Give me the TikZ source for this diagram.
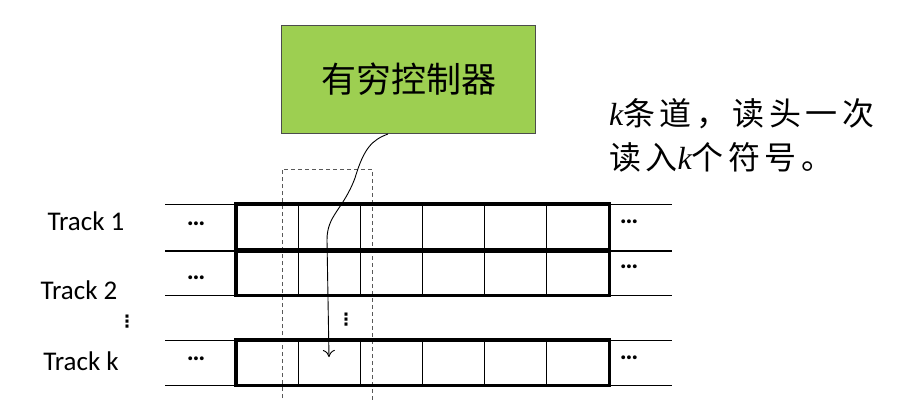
\documentclass[tikz,border=0pt]{standalone}
\usepackage{fontspec}
\setsansfont{Carlito}
\newfontfamily\cjk{Noto Sans CJK SC}
\newfontfamily\cjknote{Noto Sans CJK SC}[LetterSpace=14]
\newfontfamily\latin{Liberation Serif}
\newfontfamily\sym{DejaVu Sans}
\usetikzlibrary{positioning,arrows.meta}

\tikzset{
	cell/.style={draw,rectangle,line width=1.2pt,minimum width=62pt,anchor=north west,inner sep=0pt},
	tapebox/.style={draw,line width=3.2pt},
	ext/.style={draw,line width=1pt},
	track/.style={font=\sffamily\fontsize{27}{27}\selectfont,inner sep=0pt},
	more/.style={font=\sffamily\bfseries\fontsize{26}{26}\selectfont,inner sep=0pt},
	vdot/.style={font=\sym\bfseries\fontsize{17}{17}\selectfont,inner sep=0pt}
}

\begin{document}
\begin{tikzpicture}[x=1pt,y=-1pt]
			\useasboundingbox (0,0) rectangle (898,400);
			\definecolor{ctrlgreen}{RGB}{157,207,81}
			% finite control
			\node[draw=black!70,fill=ctrlgreen,line width=1pt,minimum width=254pt,minimum height=108pt,anchor=north west,font=\cjk\fontsize{35}{35}\selectfont] (ctrl) at (281,25){有穷控制器};
			% read window
			\draw[gray!70!black,line width=1pt,dash pattern=on 4pt off 3pt] (282,405) -- (282,169) -- (372,169) -- (372,405);
			% tracks
			\foreach \r/\y/\h in {1/204/46, 2/250/44, k/340/44}{
				\foreach \i in {1,...,6}{
					\node[cell,minimum height=\h pt] (c\r\i) at ({236+62*(\i-1)},\y){};
				}
				\draw[tapebox] (c\r1.north west) rectangle (c\r6.south east);
				\draw[ext] (c\r1.north west) -- ++(-71,0);
				\draw[ext] (c\r1.south west) -- ++(-71,0);
				\draw[ext] (c\r6.north east) -- ++(63,0);
				\draw[ext] (c\r6.south east) -- ++(63,0);
			}
			\node[track] (t1) at (86,221){Track 1};
			\node[track] (t2) at (79,290){Track 2};
			\node[track] (tk) at (81,361){Track k};
			\node[more] (l1) at (196,224){\dots};
			\node[more] (l2) at (196,278){\dots};
			\node[more] (lk) at (196,359){\dots};
			\node[more] (r1) at (629,222){\dots};
			\node[more] (r2) at (629,267){\dots};
			\node[more] (rk) at (629,358){\dots};
			\node[vdot] (v1) at (127,322){⋮};
			\node[vdot] (v2) at (346,320){⋮};
			% head
			\coordinate (src) at (388,134);
			\coordinate (head) at (329,357);
			\draw[->,>={To[length=7pt,width=12pt]},line width=0.9pt] (src) .. controls (372,140) and (364,148) .. (355,178) .. controls (343,210) and (327,215) .. (327,240) -- (head);
			% note
			\node[anchor=north west,align=left,inner sep=0pt,font=\cjknote\fontsize{32}{44}\selectfont] (note) at (609,98){{\latin\itshape k}条道，读头一次\\读入{\latin\itshape k}个符号。};
		\end{tikzpicture}
\end{document}
